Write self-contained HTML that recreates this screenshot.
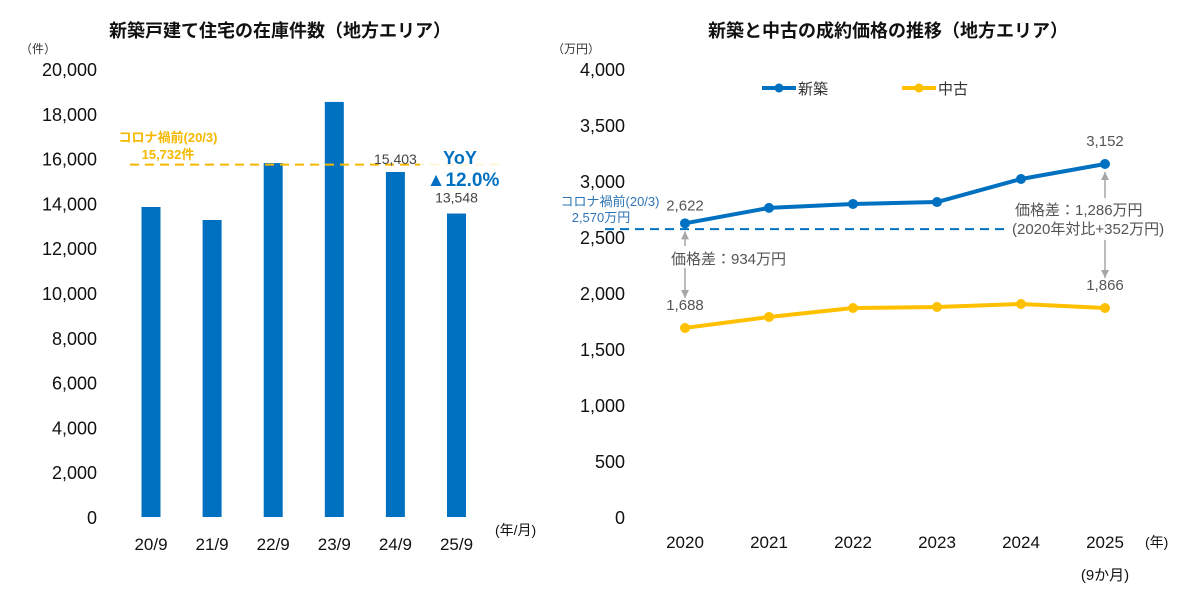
<!DOCTYPE html>
<html><head><meta charset="utf-8"><style>
body{margin:0;background:#fff;}
svg{display:block;font-family:"Liberation Sans","Noto Sans CJK JP",sans-serif;}
</style></head><body>
<svg id="c" width="1200" height="596" viewBox="0 0 1200 596">
<text x="280" y="37" text-anchor="middle" font-size="18" font-weight="bold" fill="#111">新築戸建て住宅の在庫件数（地方エリア）</text>
<text x="20" y="53" font-size="12" fill="#333">（件）</text>
<text x="495" y="535" font-size="14" fill="#111">(年/月)</text>
<text x="888" y="37" text-anchor="middle" font-size="18" font-weight="bold" fill="#111">新築と中古の成約価格の推移（地方エリア）</text>
<text x="552" y="53" font-size="12" fill="#333">（万円）</text>
<text x="1145" y="547" font-size="14" fill="#111">(年)</text>
<g id="L"></g><g id="R"></g>
</svg>
<script>
const barCats=["20/9","21/9","22/9","23/9","24/9","25/9"];
const barVals=[13840,13260,15800,18530,15403,13548];
const leftTicks=[0,2000,4000,6000,8000,10000,12000,14000,16000,18000,20000];
const preCovidStock=[15732];
const years=["2020","2021","2022","2023","2024","2025"];
const newVals=[2622,2760,2795,2812,3018,3152];
const usedVals=[1688,1786,1866,1875,1902,1866];
const rightTicks=[0,500,1000,1500,2000,2500,3000,3500,4000];
const preCovidPrice=[2570];
const NS="http://www.w3.org/2000/svg";
function mk(p,t,a,txt){const e=document.createElementNS(NS,t);for(const k in a)e.setAttribute(k,a[k]);if(txt!==undefined)e.textContent=txt;p.appendChild(e);return e;}
const fmt=v=>v.toLocaleString("en-US");
const L=document.getElementById("L"),R=document.getElementById("R");
const ly=v=>517-v/20000*448, lx=i=>151+i*61.1;
leftTicks.forEach(t=>{const e=mk(L,"text",{x:97,y:ly(t)+7,"text-anchor":"end","font-size":18,fill:"#111"},fmt(t));

});
barCats.forEach((c,i)=>{const r=mk(L,"rect",{x:lx(i)-9.5,y:ly(barVals[i]),width:19,height:517-ly(barVals[i]),fill:"#0070c0"});


const t=mk(L,"text",{x:lx(i),y:550,"text-anchor":"middle","font-size":17,fill:"#111"},c);

});
const dl=mk(L,"line",{x1:130,x2:505,y1:ly(preCovidStock[0]),y2:ly(preCovidStock[0]),stroke:"#f5b800","stroke-width":2,"stroke-dasharray":"9,6"});


let a=mk(L,"text",{x:168,y:142,"text-anchor":"middle","font-size":13,"font-weight":"bold",fill:"#f5b800"},"コロナ禍前(20/3)");


a=mk(L,"text",{x:168,y:159,"text-anchor":"middle","font-size":13,"font-weight":"bold",fill:"#f5b800"},fmt(preCovidStock[0])+"件");


[4,5].forEach(i=>{const t=mk(L,"text",{x:lx(i),y:ly(barVals[i])-(i==4?8:11),"text-anchor":"middle","font-size":14,fill:"#444"},fmt(barVals[i]));

});
mk(L,"rect",{x:420,y:143,width:88,height:48,fill:"#fff",opacity:0.85});
a=mk(L,"text",{x:460,y:164,"text-anchor":"middle","font-size":18,"font-weight":"bold",fill:"#0070c0"},"YoY");


a=mk(L,"text",{x:463,y:186,"text-anchor":"middle","font-size":19,"font-weight":"bold",fill:"#0070c0"},"▲12.0%");


const ry=v=>517-v/4000*448, rx=i=>685+i*84;
rightTicks.forEach(t=>{const e=mk(R,"text",{x:625,y:ry(t)+7,"text-anchor":"end","font-size":18,fill:"#111"},fmt(t));

});
years.forEach((y,i)=>{const t=mk(R,"text",{x:rx(i),y:548,"text-anchor":"middle","font-size":17,fill:"#111"},y);

});
a=mk(R,"text",{x:rx(5),y:580,"text-anchor":"middle","font-size":15,fill:"#111"},"(9か月)");


const pl=mk(R,"line",{x1:605,x2:1010,y1:ry(preCovidPrice[0]),y2:ry(preCovidPrice[0]),stroke:"#0070c0","stroke-width":2,"stroke-dasharray":"9,6"});


a=mk(R,"text",{x:610,y:206,"text-anchor":"middle","font-size":13,fill:"#2e75b6"},"コロナ禍前(20/3)");


a=mk(R,"text",{x:601,y:222,"text-anchor":"middle","font-size":13,fill:"#2e75b6"},fmt(preCovidPrice[0])+"万円");


function series(vals,col,name){const pts=vals.map((v,i)=>rx(i)+","+ry(v)).join(" ");
const p=mk(R,"polyline",{points:pts,fill:"none",stroke:col,"stroke-width":4,"stroke-linejoin":"round"});


vals.forEach((v,i)=>{const c=mk(R,"circle",{cx:rx(i),cy:ry(v),r:5,fill:col});

});}
function arrow(x,y1,y2){mk(R,"line",{x1:x,x2:x,y1:y1,y2:y2,stroke:"#a6a6a6","stroke-width":1.5});
mk(R,"path",{d:`M${x-4},${y1+8} L${x},${y1} L${x+4},${y1+8}Z`,fill:"#a6a6a6"});
mk(R,"path",{d:`M${x-4},${y2-8} L${x},${y2} L${x+4},${y2-8}Z`,fill:"#a6a6a6"});}
arrow(rx(0),ry(newVals[0])+8,ry(usedVals[0])-30);
arrow(rx(5),ry(newVals[5])+8,ry(usedVals[5])-30);
series(newVals,"#0070c0","new-build");
series(usedVals,"#ffc000","used");
mk(R,"rect",{x:668,y:246,width:135,height:22,fill:"#fff"});
a=mk(R,"text",{x:671,y:264,"font-size":15,fill:"#555"},"価格差：934万円");


mk(R,"rect",{x:1010,y:198,width:185,height:42,fill:"#fff",opacity:0.9});
a=mk(R,"text",{x:1015,y:215,"font-size":15,fill:"#555"},"価格差：1,286万円");


a=mk(R,"text",{x:1012,y:234,"font-size":15,fill:"#555"},"(2020年対比+352万円)");


[[0,newVals,-13],[5,newVals,-18],[0,usedVals,-18],[5,usedVals,-18]].forEach(([i,arr,d])=>{
const t=mk(R,"text",{x:rx(i),y:ry(arr[i])+d,"text-anchor":"middle","font-size":15,fill:"#555"},fmt(arr[i]));

});
[["新築","#0070c0",762],["中古","#ffc000",902]].forEach(([n,c,x])=>{
const g=mk(R,"g",{});


mk(g,"line",{x1:x,x2:x+34,y1:88,y2:88,stroke:c,"stroke-width":4});
mk(g,"circle",{cx:x+17,cy:88,r:4.5,fill:c});
mk(g,"text",{x:x+36,y:94,"font-size":15,fill:"#333"},n);});
</script>
</body></html>
